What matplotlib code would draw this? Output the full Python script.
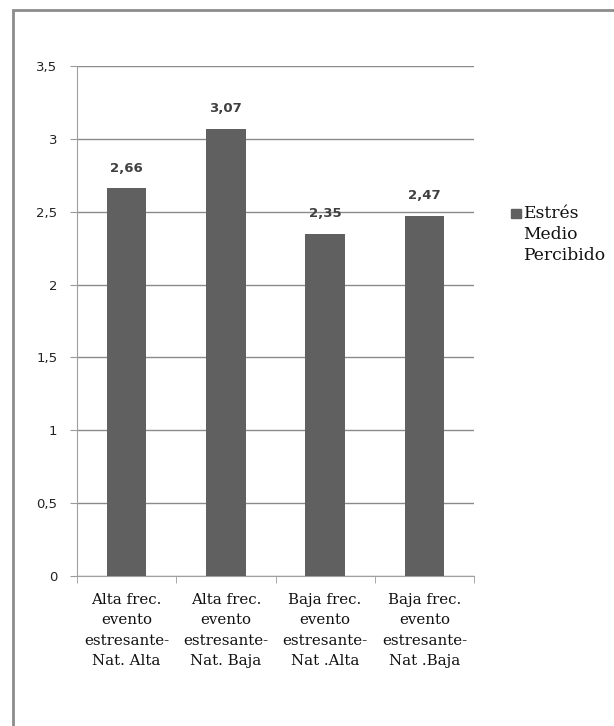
import matplotlib.pyplot as plt
from matplotlib.patches import Rectangle
from matplotlib.ticker import FuncFormatter

categorias = ['Alta frec.\nevento\nestresante-\nNat. Alta',
              'Alta frec.\nevento\nestresante-\nNat. Baja',
              'Baja frec.\nevento\nestresante-\nNat .Alta',
              'Baja frec.\nevento\nestresante-\nNat .Baja']
estres_medio = [2.66, 3.07, 2.35, 2.47]
etiquetas = ['2,66', '3,07', '2,35', '2,47']
serie = 'Estrés\nMedio\nPercibido'

color_barra = '#606060'

fig = plt.figure(figsize=(6.14, 7.26), dpi=100)
ax = fig.add_axes([77 / 614, 1 - 576 / 726, (474 - 77) / 614, (576 - 66) / 726])

x = range(len(categorias))
ax.bar(x, estres_medio, width=0.4, color=color_barra, zorder=3)

for xi, v, t in zip(x, estres_medio, etiquetas):
    ax.annotate(t, (xi, v), xytext=(0, 10), textcoords='offset points',
                ha='center', va='bottom', fontsize=9.5, fontweight='bold',
                color='#404040', family='DejaVu Sans')

ax.set_xlim(-0.5, 3.5)
ax.set_ylim(0, 3.5)
ax.set_yticks([0, 0.5, 1, 1.5, 2, 2.5, 3, 3.5])
ax.yaxis.set_major_formatter(FuncFormatter(lambda v, p: ('%g' % v).replace('.', ',')))
ax.yaxis.grid(True, color='#8a8a8a', linewidth=1, zorder=0)
ax.set_xticks(list(x))
ax.set_xticklabels(categorias, family='DejaVu Serif', fontsize=10.8,
                   linespacing=1.6, color='#111111')
ax.set_xticks([-0.5, 0.5, 1.5, 2.5, 3.5], minor=True)
ax.tick_params(axis='x', which='major', length=0, pad=12)
ax.tick_params(axis='x', which='minor', length=5, color='#9a9a9a')
ax.tick_params(axis='y', length=5, color='#9a9a9a', labelsize=9.5, pad=9)
for lab in ax.get_yticklabels():
    lab.set_family('DejaVu Sans')
    lab.set_color('#222222')

for s in ['top', 'right']:
    ax.spines[s].set_visible(False)
ax.spines['left'].set_color('#a0a0a0')
ax.spines['bottom'].set_color('#a0a0a0')

# leyenda
fig.patches.append(Rectangle((511 / 614, 1 - 218 / 726), 10 / 614, 9 / 726,
                             transform=fig.transFigure, color=color_barra))
fig.text(523 / 614, 1 - 205 / 726, serie, family='DejaVu Serif',
         fontsize=12.3, va='top', ha='left', linespacing=1.3, color='#111111')

# marco
fig.patches.append(Rectangle((12.5 / 614, -0.1), 1.2, 1 - 9.5 / 726 + 0.1,
                             transform=fig.transFigure, fill=False,
                             edgecolor='#8c8c8c', linewidth=2))

fig.savefig('out.png', dpi=100)
